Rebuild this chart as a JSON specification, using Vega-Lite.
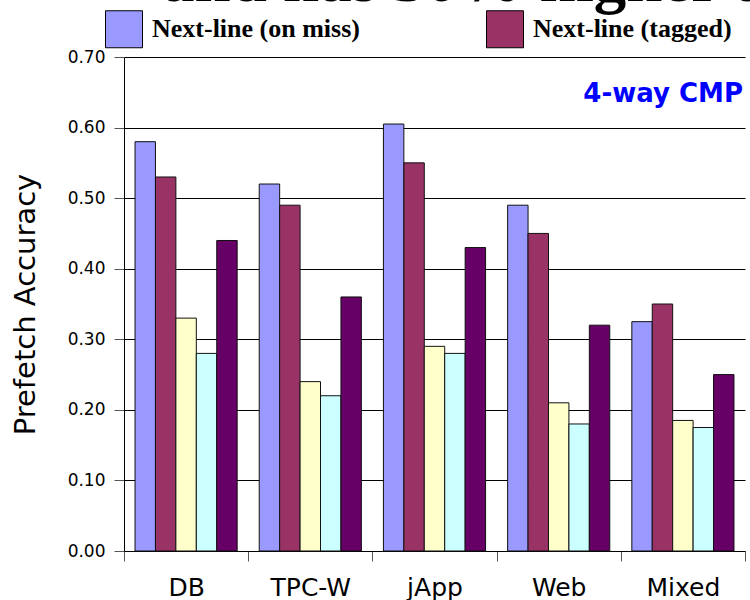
{
  "$schema": "https://vega.github.io/schema/vega-lite/v6.json",
  "width": 621,
  "height": 494,
  "autosize": {"type": "none"},
  "padding": {"left": 124, "top": 57, "right": 5, "bottom": 49},
  "background": "white",
  "title": {
    "text": "and has 50% higher a",
    "frame": "group",
    "anchor": "start",
    "orient": "top",
    "baseline": "alphabetic",
    "offset": 1,
    "dx": 38,
    "dy": 57,
    "font": "Liberation Serif",
    "fontSize": 65,
    "fontWeight": "bold",
    "color": "#000"
  },
  "config": {
    "view": {"stroke": null},
    "font": "DejaVu Sans"
  },
  "data": {
    "values": [
      {"workload": "DB", "scheme": "Next-line (on miss)", "accuracy": 0.58},
      {"workload": "DB", "scheme": "Next-line (tagged)", "accuracy": 0.53},
      {"workload": "DB", "scheme": "Series 3", "accuracy": 0.33},
      {"workload": "DB", "scheme": "Series 4", "accuracy": 0.28},
      {"workload": "DB", "scheme": "Series 5", "accuracy": 0.44},
      {"workload": "TPC-W", "scheme": "Next-line (on miss)", "accuracy": 0.52},
      {"workload": "TPC-W", "scheme": "Next-line (tagged)", "accuracy": 0.49},
      {"workload": "TPC-W", "scheme": "Series 3", "accuracy": 0.24},
      {"workload": "TPC-W", "scheme": "Series 4", "accuracy": 0.22},
      {"workload": "TPC-W", "scheme": "Series 5", "accuracy": 0.36},
      {"workload": "jApp", "scheme": "Next-line (on miss)", "accuracy": 0.605},
      {"workload": "jApp", "scheme": "Next-line (tagged)", "accuracy": 0.55},
      {"workload": "jApp", "scheme": "Series 3", "accuracy": 0.29},
      {"workload": "jApp", "scheme": "Series 4", "accuracy": 0.28},
      {"workload": "jApp", "scheme": "Series 5", "accuracy": 0.43},
      {"workload": "Web", "scheme": "Next-line (on miss)", "accuracy": 0.49},
      {"workload": "Web", "scheme": "Next-line (tagged)", "accuracy": 0.45},
      {"workload": "Web", "scheme": "Series 3", "accuracy": 0.21},
      {"workload": "Web", "scheme": "Series 4", "accuracy": 0.18},
      {"workload": "Web", "scheme": "Series 5", "accuracy": 0.32},
      {"workload": "Mixed", "scheme": "Next-line (on miss)", "accuracy": 0.325},
      {"workload": "Mixed", "scheme": "Next-line (tagged)", "accuracy": 0.35},
      {"workload": "Mixed", "scheme": "Series 3", "accuracy": 0.185},
      {"workload": "Mixed", "scheme": "Series 4", "accuracy": 0.175},
      {"workload": "Mixed", "scheme": "Series 5", "accuracy": 0.25}
    ]
  },
  "layer": [
    {
      "mark": {"type": "bar", "stroke": "#111", "strokeWidth": 1},
      "encoding": {
        "x": {
          "field": "workload",
          "type": "nominal",
          "sort": ["DB", "TPC-W", "jApp", "Web", "Mixed"],
          "scale": {"paddingInner": 0, "paddingOuter": 0},
          "axis": {
            "title": null,
            "labelAngle": 0,
            "tickBand": "extent",
            "tickSize": 10,
            "tickColor": "#555",
            "domainColor": "#000",
            "labelFont": "DejaVu Sans",
            "labelFontSize": 25,
            "labelColor": "#000",
            "labelPadding": 14,
            "grid": false
          }
        },
        "xOffset": {
          "field": "scheme",
          "type": "nominal",
          "sort": ["Next-line (on miss)", "Next-line (tagged)", "Series 3", "Series 4", "Series 5"],
          "scale": {"paddingInner": 0, "paddingOuter": 0.54}
        },
        "y": {
          "field": "accuracy",
          "type": "quantitative",
          "scale": {"domain": [0, 0.7], "nice": false},
          "axis": {
            "title": "Prefetch Accuracy",
            "values": [0, 0.1, 0.2, 0.3, 0.4, 0.5, 0.6, 0.7],
            "format": ".2f",
            "grid": true,
            "gridColor": "#000",
            "gridWidth": 1,
            "gridOpacity": 1,
            "domainColor": "#000",
            "tickColor": "#555",
            "tickSize": 10,
            "labelFont": "DejaVu Sans",
            "labelFontSize": 17,
            "labelColor": "#000",
            "labelPadding": 9,
            "titleFont": "DejaVu Sans",
            "titleFontSize": 29,
            "titleFontWeight": "normal",
            "titleColor": "#000",
            "titlePadding": 27
          }
        },
        "color": {
          "field": "scheme",
          "type": "nominal",
          "scale": {
            "domain": ["Next-line (on miss)", "Next-line (tagged)", "Series 3", "Series 4", "Series 5"],
            "range": ["#9999FF", "#993366", "#FFFFCC", "#CCFFFF", "#660066"]
          },
          "legend": {
            "title": null,
            "orient": "none",
            "legendX": -19,
            "legendY": -47,
            "direction": "horizontal",
            "values": ["Next-line (on miss)", "Next-line (tagged)"],
            "symbolType": "square",
            "symbolSize": 1369,
            "symbolStrokeColor": "#000",
            "symbolStrokeWidth": 1,
            "symbolOpacity": 1,
            "labelOffset": 9,
            "columnPadding": 124,
            "padding": 0,
            "labelFont": "Liberation Serif",
            "labelFontWeight": "bold",
            "labelFontSize": 26,
            "labelColor": "#000",
            "labelLimit": 400
          }
        }
      }
    },
    {
      "data": {"values": [{"note": "4-way CMP"}]},
      "mark": {
        "type": "text",
        "align": "right",
        "baseline": "middle",
        "dx": -2,
        "font": "DejaVu Sans",
        "fontWeight": "bold",
        "fontSize": 26,
        "color": "#0000FF"
      },
      "encoding": {
        "x": {"datum": "Mixed", "bandPosition": 1},
        "y": {"datum": 0.647},
        "text": {"field": "note"}
      }
    }
  ]
}
